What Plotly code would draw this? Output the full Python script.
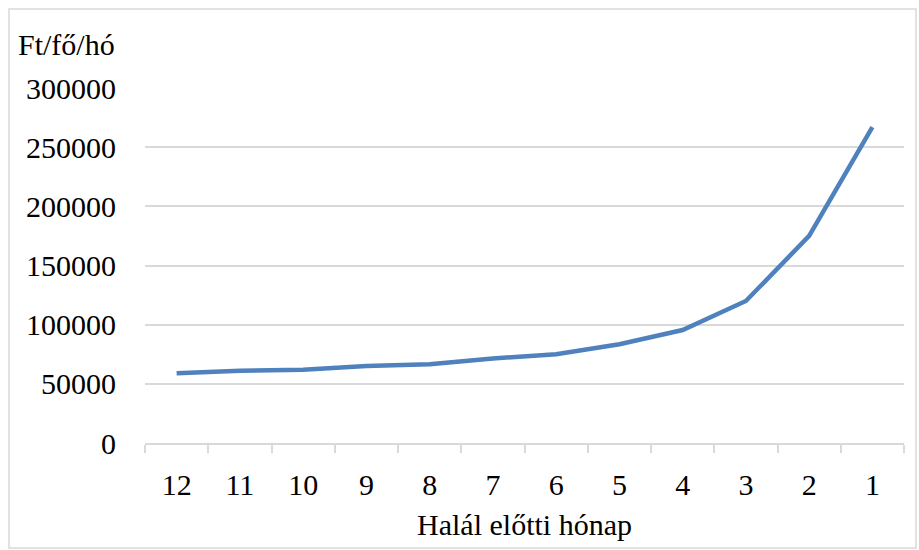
import plotly.graph_objects as go

months = ["12", "11", "10", "9", "8", "7", "6", "5", "4", "3", "2", "1"]
values = [59000, 61000, 62000, 65000, 66500, 71500, 75000, 83500, 95500, 120000, 175000, 267000]
y_ticks = [0, 50000, 100000, 150000, 200000, 250000, 300000]

W, H = 919, 550
ML, MR, MT, MB = 145, 15, 88, 107
pw, ph = W - ML - MR, H - MT - MB

font = "Liberation Serif"
FS = 30

fig = go.Figure()
fig.add_trace(go.Scatter(
    x=months, y=values, mode="lines",
    line=dict(color="#4f81bd", width=4.5),
    showlegend=False, hoverinfo="skip",
))

fig.update_layout(
    width=W, height=H,
    margin=dict(l=ML, r=MR, t=MT, b=MB),
    paper_bgcolor="white", plot_bgcolor="white",
    font=dict(family=font, size=FS, color="#000000"),
    xaxis=dict(
        type="category",
        range=[-0.5, len(months) - 0.5],
        tickson="boundaries",
        ticks="outside", ticklen=8, tickcolor="#d9d9d9", tickwidth=1.5,
        showgrid=False,
        showline=True, linecolor="#d9d9d9", linewidth=1.5,
        ticklabelstandoff=14,
        tickfont=dict(family=font, size=FS),
        title=dict(text="Halál előtti hónap", font=dict(family=font, size=FS), standoff=14),
        fixedrange=True,
    ),
    yaxis=dict(
        range=[0, 300000],
        tickvals=y_ticks,
        ticktext=[str(v) for v in y_ticks],
        showgrid=True, gridcolor="#d9d9d9", gridwidth=1.5,
        zeroline=False,
        showline=False,
        ticks="outside", ticklen=22, tickcolor="rgba(0,0,0,0)",
        tickfont=dict(family=font, size=FS),
        fixedrange=True,
    ),
    annotations=[dict(
        text="Ft/fő/hó", xref="paper", yref="paper",
        x=(16 - ML) / pw, y=(H - MB - 45) / ph,
        xanchor="left", yanchor="middle", showarrow=False,
        font=dict(family=font, size=FS),
    )],
    shapes=[dict(
        type="rect", xref="paper", yref="paper",
        x0=(9 - ML) / pw, x1=(916 - ML) / pw,
        y0=(H - MB - 548) / ph, y1=(H - MB - 9) / ph,
        line=dict(color="#d9d9d9", width=1.5), fillcolor="rgba(0,0,0,0)",
        layer="below",
    )],
)

fig.write_html("out.html")
